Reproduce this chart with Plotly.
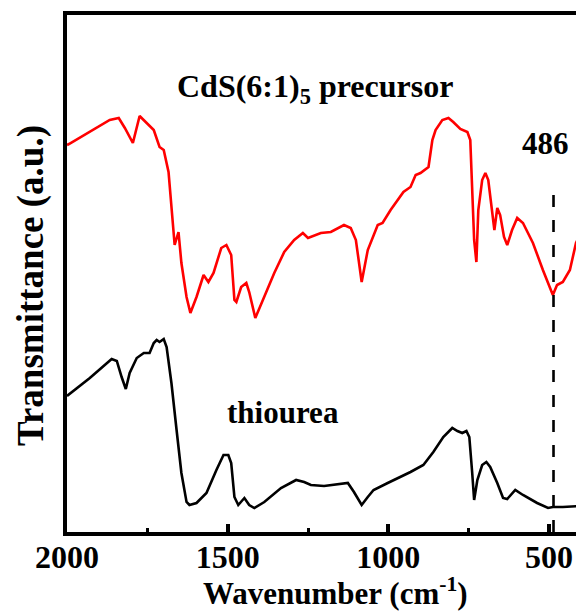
import plotly.graph_objects as go

# Wavenumber (cm^-1) and transmittance (a.u.)
precursor_wn = [2000, 1994, 1867, 1839, 1820, 1795, 1774, 1730, 1712, 1699, 1684, 1675, 1665, 1653,
                1644, 1628, 1616, 1597, 1575, 1560, 1544, 1520, 1504, 1489, 1479, 1473, 1458, 1442,
                1433, 1414, 1386, 1355, 1324, 1293, 1266, 1250, 1210, 1179, 1138, 1117, 1101, 1083,
                1064, 1033, 1018, 993, 953, 931, 915, 900, 875, 863, 853, 832, 813, 798, 776, 754,
                745, 739, 733, 726, 720, 708, 698, 689, 677, 670, 661, 652, 640, 630, 615, 599, 581,
                550, 519, 488, 475, 457, 435, 416, 400]
precursor_t = [3.87, 3.88, 4.12, 4.14, 4.04, 3.89, 4.16, 4.02, 3.85, 3.82, 3.60, 3.25, 2.87, 3.00,
               2.69, 2.35, 2.19, 2.35, 2.57, 2.50, 2.59, 2.84, 2.87, 2.77, 2.32, 2.30, 2.45, 2.49,
               2.40, 2.14, 2.35, 2.59, 2.80, 2.92, 2.99, 2.94, 2.99, 3.00, 3.07, 3.04, 2.92, 2.50,
               2.82, 3.07, 3.09, 3.22, 3.40, 3.45, 3.57, 3.59, 3.65, 3.92, 4.02, 4.12, 4.14, 4.10,
               4.03, 4.00, 3.92, 3.32, 2.92, 2.70, 3.22, 3.52, 3.59, 3.52, 3.22, 3.02, 3.24, 3.17,
               2.95, 2.87, 3.02, 3.14, 3.09, 2.89, 2.62, 2.37, 2.47, 2.50, 2.62, 2.89, 3.00]

thiourea_wn = [2000, 1929, 1861, 1845, 1830, 1817, 1805, 1783, 1761, 1743, 1730, 1721, 1712, 1699,
               1690, 1675, 1659, 1644, 1628, 1619, 1597, 1566, 1535, 1513, 1498, 1489, 1479, 1467,
               1448, 1433, 1417, 1386, 1334, 1287, 1262, 1241, 1200, 1157, 1126, 1107, 1083, 1064,
               1046, 1002, 962, 931, 891, 860, 829, 801, 785, 770, 757, 748, 739, 733, 723, 708,
               695, 683, 661, 643, 630, 605, 581, 537, 503, 488, 457, 416, 400]
thiourea_t = [1.36, 1.54, 1.73, 1.71, 1.55, 1.43, 1.59, 1.74, 1.79, 1.79, 1.89, 1.92, 1.90, 1.93,
              1.85, 1.49, 1.02, 0.59, 0.30, 0.27, 0.29, 0.39, 0.62, 0.77, 0.77, 0.69, 0.35, 0.27,
              0.34, 0.27, 0.24, 0.30, 0.44, 0.52, 0.50, 0.47, 0.46, 0.48, 0.49, 0.40, 0.27, 0.35,
              0.42, 0.49, 0.55, 0.60, 0.67, 0.80, 0.95, 1.04, 1.01, 0.99, 1.01, 0.95, 0.59, 0.32,
              0.52, 0.67, 0.70, 0.65, 0.49, 0.34, 0.33, 0.42, 0.37, 0.29, 0.24, 0.25, 0.25, 0.26,
              0.26]

major_ticks = [2000, 1500, 1000, 500]
minor_ticks = [1750, 1250, 750]
marker_wn = 486
marker_top = 3.45

FONT = "Liberation Serif, Times New Roman, serif"
L, T, PW, PH = 67, 15, 509, 517

fig = go.Figure()
fig.add_trace(go.Scatter(x=precursor_wn, y=precursor_t, mode="lines",
                         line=dict(color="#ff0000", width=2.6), showlegend=False))
fig.add_trace(go.Scatter(x=thiourea_wn, y=thiourea_t, mode="lines",
                         line=dict(color="#000000", width=2.6), showlegend=False))

fig.add_shape(type="line", x0=marker_wn, x1=marker_wn, y0=0, y1=marker_top,
              xref="x", yref="y", line=dict(color="black", width=2.6, dash="12px,13px"))

fig.add_annotation(x=1228, y=4.44, xref="x", yref="y", text="<b>CdS(6:1)<sub>5</sub> precursor</b>",
                   showarrow=False, font=dict(family=FONT, size=32, color="black"))
fig.add_annotation(x=512, y=3.89, xref="x", yref="y", text="<b>486</b>",
                   showarrow=False, font=dict(family=FONT, size=31, color="black"))
fig.add_annotation(x=1327, y=1.20, xref="x", yref="y", text="<b>thiourea</b>",
                   showarrow=False, font=dict(family=FONT, size=31, color="black"))

fig.add_annotation(x=(335 - L) / PW, y=(T + PH - 591) / PH, xref="paper", yref="paper",
                   xanchor="center", yanchor="middle",
                   text="<b>Wavenumber (cm<sup>-1</sup>)</b>", showarrow=False,
                   font=dict(family=FONT, size=31, color="black"))
fig.add_annotation(x=(31 - L) / PW, y=(T + PH - 286) / PH, xref="paper", yref="paper",
                   xanchor="center", yanchor="middle",
                   text="<b>Transmittance (a.u.)</b>", showarrow=False, textangle=-90,
                   font=dict(family=FONT, size=37, color="black"))

fig.update_xaxes(range=[2000, 416], tickvals=major_ticks, ticktext=[str(v) for v in major_ticks],
                 ticks="inside", ticklen=8, tickwidth=3.5, tickcolor="black",
                 ticklabelstandoff=-6,
                 tickfont=dict(family=FONT, size=32, color="black", weight="bold"),
                 showline=True, linecolor="black", linewidth=3.5, mirror=True,
                 showgrid=False, zeroline=False,
                 minor=dict(tickvals=minor_ticks, ticks="inside", ticklen=4, tickwidth=3,
                            tickcolor="black", showgrid=False))
fig.update_yaxes(range=[0, 5.17], showticklabels=False, ticks="",
                 showline=True, linecolor="black", linewidth=3.5, mirror=False,
                 showgrid=False, zeroline=False)

fig.update_layout(width=576, height=611, margin=dict(l=L, r=0, t=T, b=611 - T - PH),
                  plot_bgcolor="white", paper_bgcolor="white", showlegend=False)

fig.write_html("out.html")
